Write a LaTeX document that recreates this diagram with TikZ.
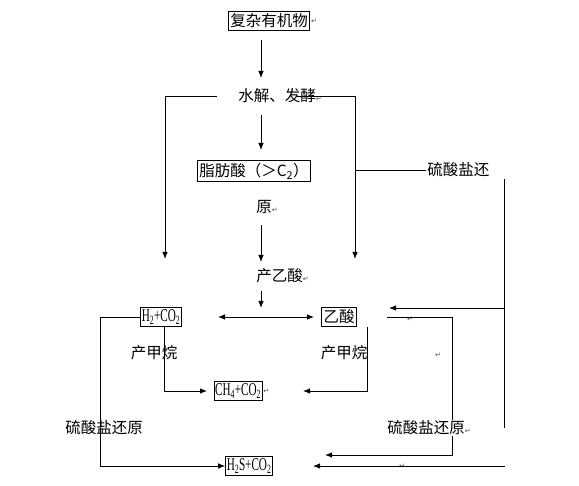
\documentclass[tikz,border=0pt]{standalone}
\usepackage{fontspec}
\setmainfont{Liberation Serif}
\newfontfamily\cjk{Noto Sans CJK SC}
\newfontfamily\retfont{DejaVu Sans}
\usetikzlibrary{
    arrows.meta,
    positioning
}
\newcommand{\ret}{{\fontsize{7}{8}\selectfont\retfont\textcolor{black!70}{↵}}}
\newcommand{\narrow}[1]{\scalebox{0.62}[1]{#1}}
\tikzset{box/.style={draw, inner xsep=2pt, inner ysep=2.5pt, font=\cjk\fontsize{15.5}{18}\selectfont}}
\tikzset{chem/.style={draw, inner xsep=1.2pt, inner ysep=2pt, font=\fontsize{18}{20}\selectfont}}
\tikzset{lbl/.style={inner sep=1pt, font=\cjk\fontsize{15.5}{18}\selectfont}}
\tikzset{retmark/.style={inner sep=0.5pt}}
\tikzset{arr/.style={-{Latex[length=7pt, width=5.5pt]}}}

\begin{document}
\begin{tikzpicture}[x=1pt, y=-1pt, line width=0.8pt]
                        \useasboundingbox (0, 0) rectangle (579, 486);

                        \node[box] (org) at (269, 21) {复杂有机物};
                        \node[retmark, right=0pt of org] (orgret) {\ret};
                        \node[lbl, anchor=west] (hyd) at (237, 96) {水解、发酵\ret};
                        \node[box] (fat) at (254, 171) {脂肪酸（＞C\textsubscript{2}）};
                        \node[lbl, anchor=west] (yuan) at (255, 207) {原\ret};
                        \node[lbl, anchor=west] (acid0) at (255, 276) {产乙酸\ret};
                        \node[lbl, anchor=west] (suT) at (426, 170) {硫酸盐还};

                        \node[chem] (hc) at (161, 317) {\narrow{H\textsubscript{2}+CO\textsubscript{2}}};
                        \node[box] (ac) at (339, 317) {乙酸};
                        \node[chem] (ch) at (238, 391) {\narrow{CH\textsubscript{4}+CO\textsubscript{2}}};
                        \node[retmark, right=0pt of ch] (chret) {\ret};
                        \node[chem] (hs) at (249, 466) {\narrow{H\textsubscript{2}S+CO\textsubscript{2}}};

                        \node[lbl] (meL) at (154, 353) {产甲烷};
                        \node[lbl] (meR) at (344, 353) {产甲烷};
                        \node[lbl] (suL) at (104, 428) {硫酸盐还原};

                        \node[retmark] (r1) at (410, 319) {\ret};
                        \node[retmark] (r2) at (438, 355) {\ret};
                        \node[retmark] (r3) at (402, 466) {\ret};

                        % main column
                        \coordinate (orgout) at (261, 40);
                        \coordinate (hydin) at (261, 78);
                        \coordinate (hydout) at (261, 115);
                        \coordinate (fatin) at (261, 150);
                        \coordinate (yuanout) at (261, 225);
                        \coordinate (acid0in) at (261, 262);
                        \coordinate (acid0out) at (261, 291);
                        \coordinate (midin) at (261, 308);
                        \draw[arr] (orgout) -- (hydin);
                        \draw[arr] (hydout) -- (fatin);
                        \draw[arr] (yuanout) -- (acid0in);
                        \draw[arr] (acid0out) -- (midin);

                        % side branches
                        \coordinate (hydL) at (217, 96);
                        \coordinate (leftin) at (165, 96);
                        \coordinate (leftend) at (165, 259);
                        \coordinate (hydR) at (297, 96);
                        \coordinate (rightin) at (355, 96);
                        \coordinate (rightend) at (355, 259);
                        \coordinate (branch) at (355, 170);
                        \draw[arr] (hydL) -- (leftin) -- (leftend);
                        \draw[arr] (hydR) -- (rightin) -- (rightend);
                        \draw (branch) -- (suT.west);

                        \coordinate (suTtop) at (504, 179);
                        \coordinate (suTbot) at (504, 428);
                        \coordinate (suTjoin) at (504, 308);
                        \coordinate (acin) at (389, 308);
                        \draw (suTtop) -- (suTbot);
                        \draw[arr] (suTjoin) -- (acin);

                        \coordinate (pairL) at (218, 317);
                        \coordinate (pairR) at (314, 317);
                        \draw[{Latex[length=7pt, width=5.5pt]}-{Latex[length=7pt, width=5.5pt]}] (pairL) -- (pairR);

                        % methane
                        \coordinate (hcdown) at (164, 327);
                        \coordinate (chinL) at (207, 391);
                        \coordinate (acdown) at (367, 327);
                        \coordinate (chinR) at (303, 391);
                        \draw[arr] (hcdown) |- (chinL);
                        \draw[arr] (acdown) |- (chinR);

                        % sulfate reduction
                        \coordinate (hcturn) at (100, 317);
                        \draw[arr] (hc.west) -- (hcturn) |- (hs.west);
                        \coordinate (acout) at (387, 317);
                        \coordinate (acturn) at (452, 317);
                        \coordinate (hsinR) at (325, 455);
                        \draw[arr] (acout) -- (acturn) |- (hsinR);
                        \coordinate (bottomR) at (505, 466);
                        \coordinate (hsin) at (313, 466);
                        \draw[arr] (bottomR) -- (hsin);

                        \node[lbl, fill=white, anchor=west] (suR) at (386, 428) {硫酸盐还原\ret};
                    \end{tikzpicture}
\end{document}
